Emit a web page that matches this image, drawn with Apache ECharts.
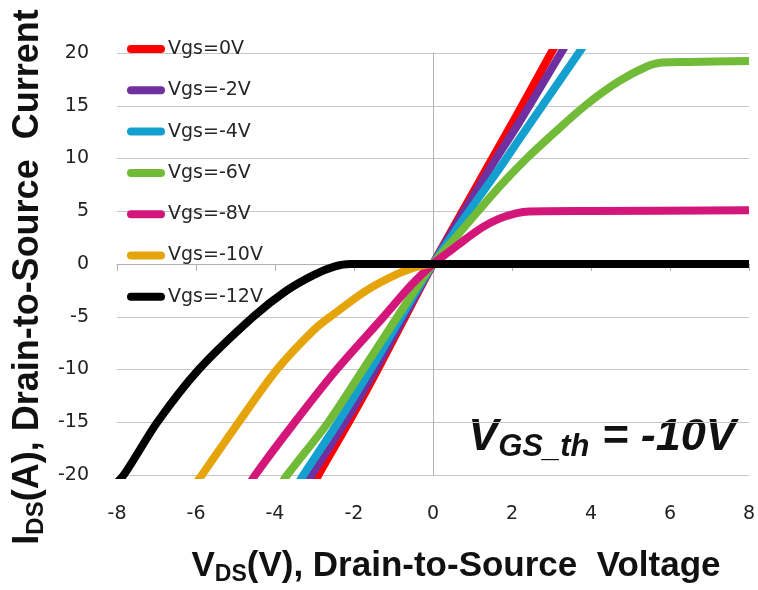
<!DOCTYPE html>
<html>
<head>
<meta charset="utf-8">
<script src="https://cdn.jsdelivr.net/npm/echarts@6/dist/echarts.min.js"></script>
<style>
  html, body { margin: 0; padding: 0; background: #ffffff; }
  #chart { width: 758px; height: 590px; }
</style>
</head>
<body>
<div id="chart"></div>
<script>
// Drain current I_DS (A) versus drain-source voltage V_DS (V), one curve per gate bias.
// Each point is [V_DS, I_DS]; curves run a little past the plot edges and are clipped there.
const seriesNames = ['Vgs=0V', 'Vgs=-2V', 'Vgs=-4V', 'Vgs=-6V', 'Vgs=-8V', 'Vgs=-10V', 'Vgs=-12V'];

const vgs0 = [[-3.2, -22.2], [-2.9, -20], [-2.1, -14.8], [-1.4, -10], [0, 0], [1.5, 10], [2.18, 14.5], [2.99, 20], [3.3, 22]];
const vgsM2 = [[-3.35, -22], [-3.07, -20], [-2.23, -15], [-1.46, -10], [0, 0], [1.6, 10], [2.18, 13.4], [3.24, 20], [3.5, 21.6]];
const vgsM4 = [[-3.6, -22], [-3.28, -20], [-2.4, -15], [-1.58, -10], [0, 0], [1.8, 9.7], [2.18, 11.8], [3.69, 20], [4.0, 21.7]];
const vgsM6 = [[-4.0, -21.8], [-3.69, -20], [-2.65, -15], [-1.77, -10], [-0.9, -5], [0, 0], [0.55, 2.4], [1.14, 5], [1.75, 7.6],
               [2.37, 10], [3.03, 12.3], [3.85, 15], [4.7, 17.3], [5.4, 18.7], [5.8, 19.1], [6.5, 19.15], [8, 19.25]];
const vgsM8 = [[-4.8, -21.8], [-4.5, -20], [-3.5, -15], [-2.44, -10], [-1.25, -5], [-0.55, -2], [0, 0], [0.42, 1.2], [0.84, 2.4],
               [1.26, 3.5], [1.68, 4.3], [2.1, 4.8], [2.44, 4.98], [4, 5.02], [8, 5.1]];
const vgsM10 = [[-6.2, -21.8], [-5.85, -20], [-4.92, -15], [-3.95, -10], [-3.0, -6.2], [-2.53, -4.8], [-1.68, -2.5], [-0.84, -0.85],
                [-0.34, -0.2], [0, 0], [8, 0]];
const vgsM12 = [[-8.2, -21.4], [-7.83, -20], [-6.98, -15], [-5.93, -10], [-4.55, -5], [-3.7, -2.5], [-3.0, -1.0], [-2.5, -0.25],
                [-2.1, 0], [8, 0]];

const curves = [vgs0, vgsM2, vgsM4, vgsM6, vgsM8, vgsM10, vgsM12];
const colors = ['#ff0000', '#7030a0', '#14a0cf', '#72bb39', '#d3177a', '#e5a40a', '#000000'];

// Axis ranges and tick steps
const xRange = [-8, 8], xStep = 2;
const yRange = [-20, 20], yStep = 5;

const gridColor = '#c6c6c6';
const axisColor = '#b2b2b2';
const tickFont = { fontSize: 19, color: '#222222', fontFamily: 'DejaVu Sans' };

const chart = echarts.init(document.getElementById('chart'), null, { renderer: 'canvas' });

function titleRich(size, subSize) {
  return {
    a: { fontSize: size, fontWeight: 'bold', fontFamily: 'Liberation Sans', fill: '#111', lineHeight: size + 5, verticalAlign: 'middle' },
    s: { fontSize: subSize, fontWeight: 'bold', fontFamily: 'Liberation Sans', fill: '#111', lineHeight: 8, verticalAlign: 'bottom' }
  };
}

// pill-shaped legend swatch
const pillIcon = 'path://M4,0 L34,0 A4,4 0 0 1 34,8 L4,8 A4,4 0 0 1 4,0 Z';

const option = {
  animation: false,
  backgroundColor: '#ffffff',
  grid: { left: 117, top: 53, width: 633, height: 422, containLabel: false },
  legend: {
    orient: 'vertical',
    left: 122,
    top: 34,
    itemWidth: 38,
    itemHeight: 8,
    itemGap: 21.3,
    icon: pillIcon,
    data: seriesNames,
    textStyle: { fontSize: 19, lineHeight: 20, color: '#262626', fontFamily: 'DejaVu Sans', padding: [0, 0, 0, -2] }
  },
  xAxis: [
    {
      // axis line through I=0 with downward ticks
      type: 'value', min: xRange[0], max: xRange[1], interval: xStep,
      axisLine: { show: true, onZero: true, lineStyle: { color: axisColor, width: 1 } },
      axisTick: { show: true, length: 7, inside: false, lineStyle: { color: axisColor, width: 1 } },
      axisLabel: { show: false },
      splitLine: { show: false }
    },
    {
      // tick labels along the bottom edge
      type: 'value', min: xRange[0], max: xRange[1], interval: xStep, position: 'bottom',
      axisLine: { show: false, onZero: false },
      axisTick: { show: false },
      axisLabel: Object.assign({ show: true, margin: 30 }, tickFont),
      splitLine: { show: false }
    }
  ],
  yAxis: [
    {
      // vertical axis line through V=0 plus horizontal gridlines
      type: 'value', min: yRange[0], max: yRange[1], interval: yStep,
      axisLine: { show: true, onZero: true, lineStyle: { color: axisColor, width: 1 } },
      axisTick: { show: false },
      axisLabel: { show: false },
      splitLine: { show: true, lineStyle: { color: gridColor, width: 1 } }
    },
    {
      // tick labels along the left edge
      type: 'value', min: yRange[0], max: yRange[1], interval: yStep, position: 'left',
      axisLine: { show: false, onZero: false },
      axisTick: { show: false },
      axisLabel: Object.assign({ show: true, margin: 28 }, tickFont),
      splitLine: { show: false }
    }
  ],
  series: curves.map((pts, i) => ({
    name: seriesNames[i],
    type: 'line',
    xAxisIndex: 0,
    yAxisIndex: 0,
    data: pts,
    clip: true,
    smooth: 0.3,
    showSymbol: false,
    symbol: 'none',
    color: colors[i],
    lineStyle: { color: colors[i], width: 8, join: 'round' },
    emphasis: { disabled: true }
  })),
  graphic: [
    {
      type: 'text',
      x: 456, y: 566,
      style: {
        text: '{a|V}{s|DS}{a|(V), Drain-to-Source  Voltage}',
        align: 'center', verticalAlign: 'middle',
        rich: titleRich(35, 23)
      }
    },
    {
      type: 'text',
      x: 28, y: 277,
      rotation: Math.PI / 2,
      style: {
        text: '{a|I}{s|DS}{a|(A), Drain-to-Source  Current}',
        align: 'center', verticalAlign: 'middle',
        rich: titleRich(36, 24)
      }
    },
    {
      type: 'text',
      x: 602, y: 438,
      style: {
        text: '{a|V}{s|GS_th}{a| = -10V}',
        align: 'center', verticalAlign: 'middle',
        rich: {
          a: { fontSize: 45, fontWeight: 'bold', fontStyle: 'italic', fontFamily: 'Liberation Sans', fill: '#111', lineHeight: 50, verticalAlign: 'middle' },
          s: { fontSize: 31, fontWeight: 'bold', fontStyle: 'italic', fontFamily: 'Liberation Sans', fill: '#111', lineHeight: 14, verticalAlign: 'bottom' }
        }
      }
    }
  ]
};

chart.setOption(option);
</script>
</body>
</html>
